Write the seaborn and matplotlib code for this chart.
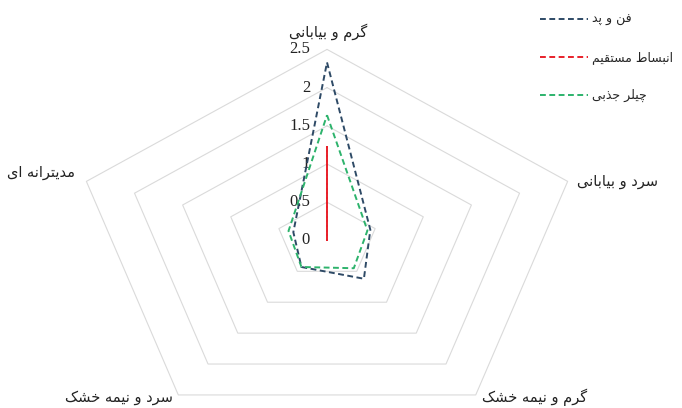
import numpy as np
import pandas as pd
import matplotlib
matplotlib.use("Agg")
import matplotlib.pyplot as plt
import matplotlib.transforms as mtransforms
from matplotlib.lines import Line2D
import seaborn as sns

# climate zones, clockwise from the top
categories = ["گرم و بیابانی", "سرد و بیابانی", "گرم و نیمه خشک", "سرد و نیمه خشک", "مدیترانه ای"]
systems = ["فن و پد", "انبساط مستقیم", "چیلر جذبی"]
fan_pad = [2.33, 0.45, 0.62, 0.43, 0.35]
direct_exp = [1.24, 0, 0, 0, 0]
chiller = [1.64, 0.42, 0.45, 0.43, 0.40]
r_ticks = [0, 0.5, 1, 1.5, 2, 2.5]
r_tick_labels = ["0", "0.5", "1", "1.5", "2", "2.5"]
colors = ["#2E4A66", "#E8202A", "#2DB36C"]

################################
# matplotlib has no arabic shaping, so pick the presentation forms by hand
FORMS = {
    'ا': (0xFE8D, 0xFE8E),
    'ب': (0xFE8F, 0xFE90, 0xFE91, 0xFE92),
    'پ': (0xFB56, 0xFB57, 0xFB58, 0xFB59),
    'ت': (0xFE95, 0xFE96, 0xFE97, 0xFE98),
    'ج': (0xFE9D, 0xFE9E, 0xFE9F, 0xFEA0),
    'چ': (0xFB7A, 0xFB7B, 0xFB7C, 0xFB7D),
    'خ': (0xFEA5, 0xFEA6, 0xFEA7, 0xFEA8),
    'د': (0xFEA9, 0xFEAA),
    'ذ': (0xFEAB, 0xFEAC),
    'ر': (0xFEAD, 0xFEAE),
    'س': (0xFEB1, 0xFEB2, 0xFEB3, 0xFEB4),
    'ش': (0xFEB5, 0xFEB6, 0xFEB7, 0xFEB8),
    'ط': (0xFEC1, 0xFEC2, 0xFEC3, 0xFEC4),
    'ف': (0xFED1, 0xFED2, 0xFED3, 0xFED4),
    'ق': (0xFED5, 0xFED6, 0xFED7, 0xFED8),
    'ک': (0xFB8E, 0xFB8F, 0xFB90, 0xFB91),
    'گ': (0xFB92, 0xFB93, 0xFB94, 0xFB95),
    'ل': (0xFEDD, 0xFEDE, 0xFEDF, 0xFEE0),
    'م': (0xFEE1, 0xFEE2, 0xFEE3, 0xFEE4),
    'ن': (0xFEE5, 0xFEE6, 0xFEE7, 0xFEE8),
    'ه': (0xFEE9, 0xFEEA, 0xFEEB, 0xFEEC),
    'و': (0xFEED, 0xFEEE),
    'ی': (0xFBFC, 0xFBFD, 0xFBFE, 0xFBFF),
}


def fa(text):
    out = []
    for i, ch in enumerate(text):
        if ch not in FORMS:
            out.append(ch)
            continue
        prev = text[i - 1] if i > 0 else ''
        nxt = text[i + 1] if i + 1 < len(text) else ''
        f = FORMS[ch]
        join_prev = prev in FORMS and len(FORMS[prev]) == 4
        join_next = len(f) == 4 and nxt in FORMS
        if join_prev and join_next:
            code = f[3]
        elif join_prev:
            code = f[1]
        elif join_next:
            code = f[2]
        else:
            code = f[0]
        out.append(chr(code))
    return ''.join(reversed(out))
################################

sns.set_theme(style="white")
plt.rcParams['font.family'] = ['DejaVu Sans']

n = len(categories)
angles = np.linspace(0, 2 * np.pi, n, endpoint=False)
angles_closed = np.append(angles, 2 * np.pi)

rows = []
for name, vals in zip(systems, [fan_pad, direct_exp, chiller]):
    for a, v in zip(angles_closed, vals + vals[:1]):
        rows.append({'angle': a, 'value': v, 'system': name})
df = pd.DataFrame(rows)

fig = plt.figure(figsize=(6.82, 4.08), dpi=100)
ax = fig.add_axes([0.1085, -0.0574, 0.742, 0.9363], projection='polar')
ax.set_aspect('auto')
ax.set_theta_zero_location('N')
ax.set_theta_direction(-1)

# pentagon grid
for r in r_ticks[1:]:
    ax.plot(angles_closed, [r] * (n + 1), color='#DADADA', lw=0.8, clip_on=False, zorder=1)

sns.lineplot(data=df, x='angle', y='value', hue='system', palette=colors,
             sort=False, estimator=None, legend=False, ax=ax,
             linestyle=(0, (3, 1.8)), lw=1.4, zorder=3)

ax.set_ylim(0, 2.5)
ax.set_xticks([])
ax.set_yticks([])
ax.grid(False)
ax.spines['polar'].set_visible(False)
ax.set_xlabel('')
ax.set_ylabel('')

off = mtransforms.offset_copy(ax.transData, fig=fig, x=-17, y=0, units='dots')
for r, lab in zip(r_ticks, r_tick_labels):
    ax.text(0, r, lab, transform=off, ha='right', va='center',
            family='Liberation Serif', fontsize=12, color='#222222', zorder=0)

# axis labels, placed like the original
label_pos = [(0.502, 1.046, 'center'), (0.994, 0.655, 'left'), (0.911, 0.09, 'center'),
             (0.089, 0.09, 'center'), (0.002, 0.679, 'right')]
for cat, (x, y, ha) in zip(categories, label_pos):
    ax.text(x, y, fa(cat), transform=ax.transAxes, ha=ha, va='center', fontsize=10.5, color='#222222')

handles = [Line2D([0], [0], color=c, lw=1.4, linestyle=(0, (3, 1.8))) for c in colors]
fig.legend(handles, [fa(s) for s in systems], loc='upper left', bbox_to_anchor=(540 / 682, 1 - 13 / 408),
           frameon=False, fontsize=9, handlelength=3.8, handletextpad=0.4, labelspacing=2.0,
           borderpad=0, borderaxespad=0)

fig.savefig('out.png', dpi=100)
